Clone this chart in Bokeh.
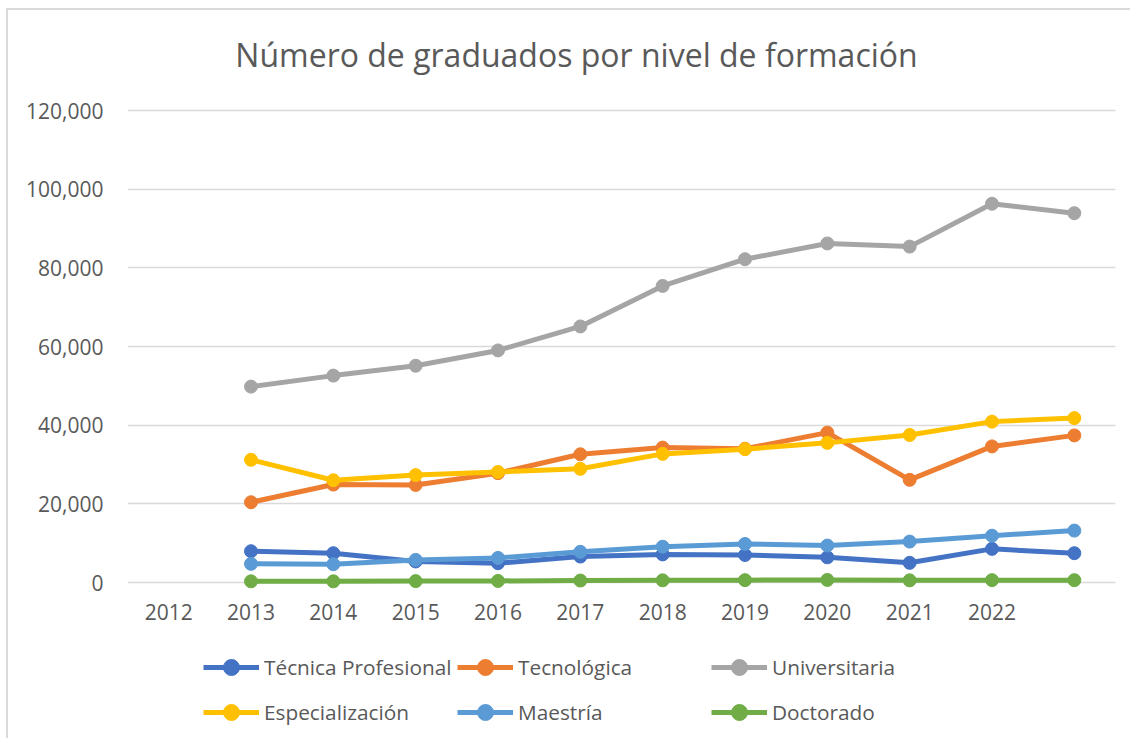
from bokeh.plotting import figure
from bokeh.models import FactorRange, Range1d, NumeralTickFormatter, Legend, LegendItem, FixedTicker, Label
from bokeh.embed import file_html
from bokeh.resources import INLINE

# Category axis (12 slots; the data occupy the last 11)
categorias = ["2012", "2013", "2014", "2015", "2016", "2017", "2018", "2019", "2020", "2021", "2022", " "]
x_datos = categorias[1:]

tecnica_profesional = [7950, 7450, 5350, 4900, 6600, 7150, 7000, 6400, 5000, 8550, 7450]
tecnologica = [20400, 24900, 24800, 27800, 32600, 34300, 34000, 38100, 26100, 34600, 37400]
universitaria = [49800, 52600, 55100, 59000, 65100, 75400, 82200, 86200, 85400, 96300, 93900]
especializacion = [31200, 26000, 27300, 28100, 28900, 32700, 33900, 35500, 37500, 40900, 41800]
maestria = [4750, 4650, 5750, 6250, 7800, 9100, 9800, 9400, 10400, 11900, 13200]
doctorado = [300, 300, 350, 400, 500, 550, 600, 650, 550, 600, 600]

y_ticks = [0, 20000, 40000, 60000, 80000, 100000, 120000]

series = [
    ("Técnica Profesional", tecnica_profesional, "#4472C4"),
    ("Tecnológica", tecnologica, "#ED7D31"),
    ("Universitaria", universitaria, "#A5A5A5"),
    ("Especialización", especializacion, "#FFC000"),
    ("Maestría", maestria, "#5B9BD5"),
    ("Doctorado", doctorado, "#70AD47"),
]

FONT = "Open Sans"
GRAY = "#595959"

# --- layout geometry (pixels) ---
W, H = 1124, 730
LEFT, RIGHT = 119, 17
PLOT_TOP, PLOT_BOTTOM = 100, 572      # pixel rows of 120,000 and 0 inside the canvas
px_per_unit = (PLOT_BOTTOM - PLOT_TOP) / (y_ticks[-1] - y_ticks[0])
y_start = -(H - PLOT_BOTTOM) / px_per_unit
y_end = y_ticks[-1] + PLOT_TOP / px_per_unit

p = figure(width=W, height=H, output_backend="svg", toolbar_location=None,
           x_range=FactorRange(*categorias, range_padding=0),
           y_range=Range1d(y_start, y_end),
           min_border_left=LEFT, min_border_right=RIGHT, min_border_top=0, min_border_bottom=0)
p.title.text = ""
p.outline_line_color = None
p.background_fill_color = "white"
p.border_fill_color = "white"
p.styles = {"margin-left": "6px", "margin-top": "8px",
            "border-left": "2px solid #d9d9d9", "border-top": "2px solid #d9d9d9"}

p.xgrid.grid_line_color = None
p.ygrid.grid_line_color = "#d9d9d9"
p.ygrid.grid_line_width = 1.5

p.yaxis.ticker = FixedTicker(ticks=y_ticks)
p.yaxis.formatter = NumeralTickFormatter(format="0,0")
p.xaxis.fixed_location = 0
for ax in (p.xaxis[0], p.yaxis[0]):
    ax.axis_line_color = None
    ax.major_tick_line_color = None
    ax.minor_tick_line_color = None
    ax.major_label_text_font = FONT
    ax.major_label_text_font_size = "21px"
    ax.major_label_text_color = GRAY
p.yaxis.major_label_standoff = 18
p.xaxis.major_label_standoff = 9

items = []
for nombre, valores, color in series:
    r1 = p.line(x_datos, valores, line_color=color, line_width=5)
    r2 = p.scatter(x_datos, valores, size=13, fill_color=color, line_color=color)
    items.append(LegendItem(label=nombre, renderers=[r1, r2]))

legend = Legend(items=items, ncols=3, location=(76, 8), orientation="horizontal",
                padding=0, margin=0, spacing=5, glyph_width=56, glyph_height=40,
                label_height=40, label_width=188, label_standoff=5,
                label_text_font=FONT, label_text_font_size="20.8px", label_text_color=GRAY,
                border_line_color=None, background_fill_alpha=0)
p.add_layout(legend, "center")

titulo = Label(x=449, y=H - 44, x_units="screen", y_units="screen",
               text="Número de graduados por nivel de formación",
               text_font=FONT, text_font_size="32px", text_color=GRAY,
               text_align="center", text_baseline="alphabetic")
p.add_layout(titulo)

open("out.html", "w").write(file_html(p, INLINE))
